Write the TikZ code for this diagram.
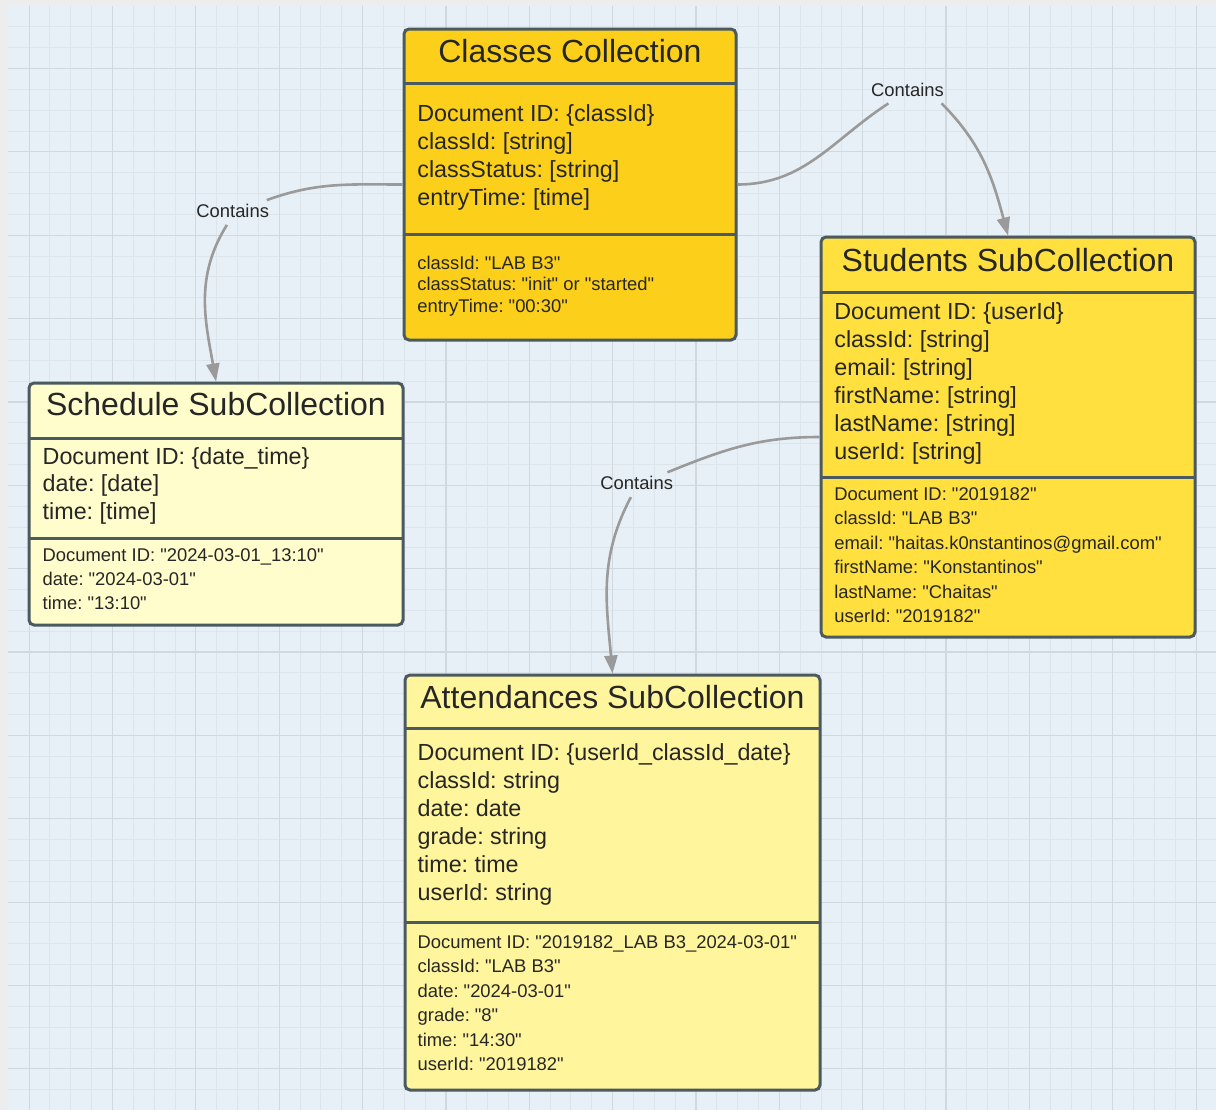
\documentclass[tikz,border=0pt]{standalone}
\usepackage{fontspec}
\setmainfont{Liberation Sans}[Ligatures=TeXOff]
\usetikzlibrary{arrows.meta}
\frenchspacing

\definecolor{framegrey}{HTML}{EDEDED}
\definecolor{gridbg}{HTML}{E8F0F7}
\definecolor{gridminor}{HTML}{DDE5EB}
\definecolor{gridmajor}{HTML}{D1D9DE}
\definecolor{boxline}{HTML}{4A5A60}
\definecolor{ink}{HTML}{262626}
\definecolor{linkgrey}{HTML}{9A9A9A}
\definecolor{classfill}{HTML}{FCD01A}
\definecolor{studentfill}{HTML}{FFE03F}
\definecolor{schedfill}{HTML}{FFFDCB}
\definecolor{attendfill}{HTML}{FFF59D}

\begin{document}
\begin{tikzpicture}[x=0.5pt, y=0.5pt,
	entity/.style={draw=boxline, line width=1.5pt, rounded corners=2.5pt, inner sep=0pt},
	divider/.style={draw=boxline, line width=1.5pt},
	heading/.style={anchor=base, inner sep=0pt, text=ink, font=\fontsize{16}{19}\selectfont},
	field/.style={anchor=base west, inner sep=0pt, text=ink, font=\fontsize{11.65}{14}\selectfont},
	sample/.style={anchor=base west, inner sep=0pt, text=ink, font=\fontsize{9.2}{11}\selectfont},
	relname/.style={inner xsep=2pt, inner ysep=1.5pt, text height=7pt, text depth=2pt, text=ink, font=\fontsize{9.2}{11}\selectfont},
	link/.style={draw=linkgrey, line width=1.3pt, -{Triangle[length=9pt,width=6.5pt]}}]
	\useasboundingbox (0,0) rectangle (1216,-1110);
	% grid paper
	\fill[framegrey] (0,0) rectangle (1216,-1110);
	\fill[gridbg] (8,-6) rectangle (1216,-1110);
	\foreach \k in {1,...,57} \draw[gridminor, line width=0.5pt] ({8.3+20.84*\k},-6) -- ({8.3+20.84*\k},-1110);
	\foreach \k in {1,...,52} \draw[gridminor, line width=0.5pt] (8,{-6-20.84*\k}) -- (1216,{-6-20.84*\k});
	\foreach \k in {0,...,14} \draw[gridmajor, line width=0.6pt] ({29.1+83.36*\k},-6) -- ({29.1+83.36*\k},-1110);
	\foreach \k in {0,...,12} \draw[gridmajor, line width=0.6pt] (8,{-68.5-83.36*\k}) -- (1216,{-68.5-83.36*\k});

	% Classes Collection
	\node[entity, fill=classfill, minimum width=166pt, minimum height=155.5pt] (classes) at (570,-184.5) {};
	\draw[divider] (404,-83) -- (736,-83);
	\draw[divider] (404,-234) -- (736,-234);
	\node[heading] (classesTitle) at (570,-62.5) {Classes Collection};
	\foreach \txt [count=\i from 0] in {Document ID: \{classId\}, classId: [string], classStatus: [string], entryTime: [time]}
		\node[field] (classesField\i) at (417,{-121.7-27.8*\i}) {\txt};
	\foreach \txt [count=\i from 0] in {classId: "LAB B3", classStatus: "init" or "started", entryTime: "00:30"}
		\node[sample] (classesSample\i) at (417,{-269.5-21.4*\i}) {\txt};

	% Students SubCollection
	\node[entity, fill=studentfill, minimum width=187pt, minimum height=200pt] (students) at (1008,-437) {};
	\draw[divider] (821,-292) -- (1195,-292);
	\draw[divider] (821,-477) -- (1195,-477);
	\node[heading] (studentsTitle) at (1008,-271.7) {Students SubCollection};
	\foreach \txt [count=\i from 0] in {Document ID: \{userId\}, classId: [string], email: [string], firstName: [string], lastName: [string], userId: [string]}
		\node[field] (studentsField\i) at (834,{-319.3-28*\i}) {\txt};
	\foreach \txt [count=\i from 0] in {Document ID: "2019182", classId: "LAB B3", email: "haitas.k0nstantinos@gmail.com", firstName: "Konstantinos", lastName: "Chaitas", userId: "2019182"}
		\node[sample] (studentsSample\i) at (834,{-500-24.5*\i}) {\txt};

	% Schedule SubCollection
	\node[entity, fill=schedfill, minimum width=187pt, minimum height=121pt] (schedule) at (216,-504) {};
	\draw[divider] (29,-438) -- (403,-438);
	\draw[divider] (29,-538) -- (403,-538);
	\node[heading] (scheduleTitle) at (216,-415.7) {Schedule SubCollection};
	\foreach \txt [count=\i from 0] in {Document ID: \{date\_time\}, date: [date], time: [time]}
		\node[field] (scheduleField\i) at (42.3,{-464.3-27.6*\i}) {\txt};
	\foreach \txt [count=\i from 0] in {Document ID: "2024-03-01\_13:10", date: "2024-03-01", time: "13:10"}
		\node[sample] (scheduleSample\i) at (42.3,{-561.7-23.8*\i}) {\txt};

	% Attendances SubCollection
	\node[entity, fill=attendfill, minimum width=207.5pt, minimum height=207.5pt] (attendances) at (612.5,-882.5) {};
	\draw[divider] (405,-728) -- (820,-728);
	\draw[divider] (405,-922) -- (820,-922);
	\node[heading] (attendancesTitle) at (612.5,-708.3) {Attendances SubCollection};
	\foreach \txt [count=\i from 0] in {Document ID: \{userId\_classId\_date\}, classId: string, date: date, grade: string, time: time, userId: string}
		\node[field] (attendancesField\i) at (417.3,{-760-28*\i}) {\txt};
	\foreach \txt [count=\i from 0] in {Document ID: "2019182\_LAB B3\_2024-03-01", classId: "LAB B3", date: "2024-03-01", grade: "8", time: "14:30", userId: "2019182"}
		\node[sample] (attendancesSample\i) at (417.3,{-948.3-24.5*\i}) {\txt};

	% relations
	\node[relname] (containsStudents) at (907.5,-91) {Contains};
	\node[relname] (containsSchedule) at (232.7,-212.5) {Contains};
	\node[relname] (containsAttend) at (636.7,-484.7) {Contains};
	\draw[link] (classes.east) to[out=0,in=213] (containsStudents) (containsStudents.-20) to[out=-45,in=105] (students.north);
	\draw[link] (classes.west) to[out=180,in=20] (containsSchedule) (containsSchedule.-115) to[out=-122,in=100] (schedule.north);
	\draw[link] (students.west) to[out=180,in=22] (containsAttend) (containsAttend.-115) to[out=-118,in=95] (attendances.north);
\end{tikzpicture}
\end{document}
